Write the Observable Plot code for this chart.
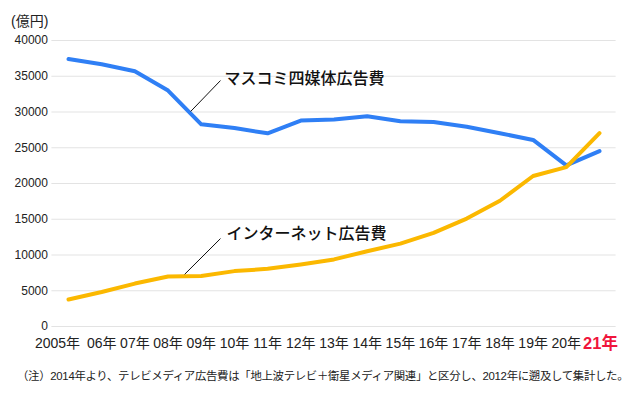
<!DOCTYPE html>
<html><head><meta charset="utf-8">
<script src="https://cdn.jsdelivr.net/npm/d3@7"></script>
<script src="https://cdn.jsdelivr.net/npm/@observablehq/plot@0.6"></script>
<style>
body{margin:0;background:#fff;font-family:"Liberation Sans","Noto Sans CJK JP",sans-serif;}
#wrap{position:relative;width:642px;height:397px;}
#unit{position:absolute;left:11px;top:10px;font-size:14px;color:#222;}
#note{position:absolute;left:17px;top:367px;font-size:11.4px;color:#222;white-space:nowrap;letter-spacing:-0.3px;}
svg{position:absolute;left:0;top:0;}
</style></head>
<body><div id="wrap"><div id="unit">(億円)</div><div id="note">（注）2014年より、テレビメディア広告費は「地上波テレビ＋衛星メディア関連」と区分し、2012年に遡及して集計した。</div></div>
<script>
const years = [2005,2006,2007,2008,2009,2010,2011,2012,2013,2014,2015,2016,2017,2018,2019,2020,2021];
const yearLabels = ["2005年","06年","07年","08年","09年","10年","11年","12年","13年","14年","15年","16年","17年","18年","19年","20年","21年"];
const massMedia = [37408,36668,35699,32995,28282,27749,27016,28809,28935,29393,28699,28596,27938,27026,26094,22536,24538];
const internet = [3777,4826,6003,6983,7069,7747,8062,8680,9381,10519,11594,13100,15094,17589,21048,22290,27052];
const yTicks = [0,5000,10000,15000,20000,25000,30000,35000,40000];
const seriesNames = ["マスコミ四媒体広告費","インターネット広告費"];
const labelPos = [{x:2009.7,y:34700},{x:2009.76,y:13000}];
const leaders = [{x1:2008.68,y1:30070,x2:2009.58,y2:34400},{x1:2008.5,y1:7300,x2:2009.58,y2:12300}];

const mass = years.map((x,i)=>({x,y:massMedia[i]}));
const net = years.map((x,i)=>({x,y:internet[i]}));
const labels = years.map((x,i)=>({x,label:yearLabels[i],first:i===0,last:i===years.length-1}));
const font = '"Liberation Sans","Noto Sans CJK JP",sans-serif';

const chart = Plot.plot({
  width:642, height:360,
  marginTop:40, marginBottom:34, marginLeft:68, marginRight:43,
  style:{fontFamily:font, background:"transparent"},
  x:{domain:[2005,2021], axis:null},
  y:{domain:[0,40000], axis:null},
  marks:[
    Plot.ruleY(yTicks,{x1:2004.5,x2:2021.5,stroke:"#e3e3e3",strokeWidth:1}),
    Plot.text(yTicks,{x:2004.5,y:d=>d,text:d=>String(d),textAnchor:"end",dx:-4,fontSize:12,fill:"#222"}),
    Plot.line(mass,{x:"x",y:"y",stroke:"#2f7ff5",strokeWidth:4,strokeLinejoin:"round"}),
    Plot.line(net,{x:"x",y:"y",stroke:"#fbb800",strokeWidth:4,strokeLinejoin:"round"}),
    Plot.link(leaders,{x1:"x1",y1:"y1",x2:"x2",y2:"y2",stroke:"#111",strokeWidth:1}),
    Plot.text(labelPos,{x:"x",y:"y",text:(d,i)=>seriesNames[i],textAnchor:"start",fontSize:16,fontWeight:500,fill:"#111"}),
    Plot.text(labels.filter(d=>!d.first&&!d.last),{x:"x",y:0,text:"label",dy:17,fontSize:14,fill:"#222"}),
    Plot.text(labels.filter(d=>d.first),{x:"x",y:0,text:"label",dy:17,dx:-11,fontSize:14,fill:"#222"}),
    Plot.text(labels.filter(d=>d.last),{x:"x",y:0,text:"label",dy:17,dx:1,fontSize:16.5,fontWeight:"bold",fill:"#f0153c"})
  ]
});
document.getElementById("wrap").appendChild(chart);
</script></body></html>
